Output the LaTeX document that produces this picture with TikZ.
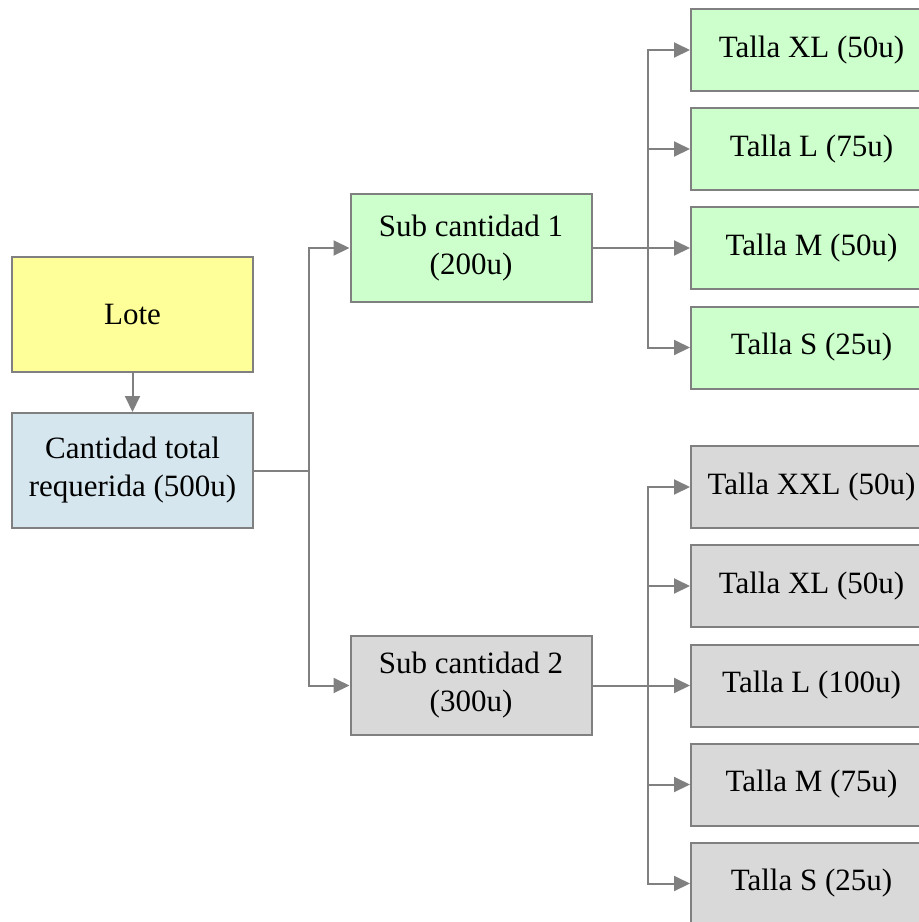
\documentclass[tikz,border=0pt]{standalone}
\usepackage{fontspec}
\setmainfont{Liberation Serif}
\usetikzlibrary{arrows.meta}
\definecolor{bordergray}{HTML}{808080}
\definecolor{lotey}{HTML}{FFFF99}
\definecolor{boxgreen}{HTML}{CCFFCC}
\definecolor{boxblue}{HTML}{D6E6EE}
\definecolor{boxgray}{HTML}{D9D9D9}
\tikzset{
  box/.style={draw=bordergray, line width=2pt, rectangle, inner sep=0pt, align=center,
    font=\fontsize{31}{38}\selectfont, text=black},
  wide/.style={box, minimum width=241pt, minimum height=115pt},
  sub/.style={box, minimum width=241pt},
  talla/.style={box, minimum width=241pt, minimum height=82pt},
  conn/.style={draw=bordergray, line width=2pt},
  arr/.style={conn, -{Triangle[length=16pt,width=15pt]}}
}
\begin{document}
\begin{tikzpicture}[x=1pt,y=-1pt]
\useasboundingbox (0,0) rectangle (919,922);
\node[wide, fill=lotey] (lote) at (132.5,314.5) {Lote};
\node[wide, fill=boxblue] (total) at (132.5,470.5) {Cantidad total\\requerida (500u)};
\node[sub, fill=boxgreen, minimum height=108pt] (s1) at (471,248) {Sub cantidad 1\\(200u)};
\node[sub, fill=boxgray, minimum height=99pt] (s2) at (471,685.5) {Sub cantidad 2\\(300u)};
% top group
\node[talla, fill=boxgreen, anchor=west] (a1) at (690,50) {Talla XL (50u)};
\node[talla, fill=boxgreen, anchor=west] (a2) at (690,149) {Talla L (75u)};
\node[talla, fill=boxgreen, anchor=west] (a3) at (690,248) {Talla M (50u)};
\node[talla, fill=boxgreen, anchor=west] (a4) at (690,347.5) {Talla S (25u)};
% bottom group
\node[talla, fill=boxgray, anchor=west] (b1) at (690,487) {Talla XXL (50u)};
\node[talla, fill=boxgray, anchor=west] (b2) at (690,586) {Talla XL (50u)};
\node[talla, fill=boxgray, anchor=west] (b3) at (690,685.5) {Talla L (100u)};
\node[talla, fill=boxgray, anchor=west] (b4) at (690,784.5) {Talla M (75u)};
\node[talla, fill=boxgray, anchor=west] (b5) at (690,883.5) {Talla S (25u)};
% bus coordinates
\coordinate (j0) at (309,470.5);
\coordinate (j1) at (648,248);
\coordinate (j2) at (648,685.5);
% connectors
\draw[arr] (lote.south) -- (total.north);
\draw[conn] (total.east) -- (j0);
\draw[arr] (j0) |- (s1.west);
\draw[arr] (j0) |- (s2.west);
\draw[conn] (s1.east) -- (j1);
\foreach \n in {a1,a2,a3,a4} \draw[arr] (j1) |- (\n.west);
\draw[conn] (s2.east) -- (j2);
\foreach \n in {b1,b2,b3,b4,b5} \draw[arr] (j2) |- (\n.west);
\end{tikzpicture}
\end{document}
